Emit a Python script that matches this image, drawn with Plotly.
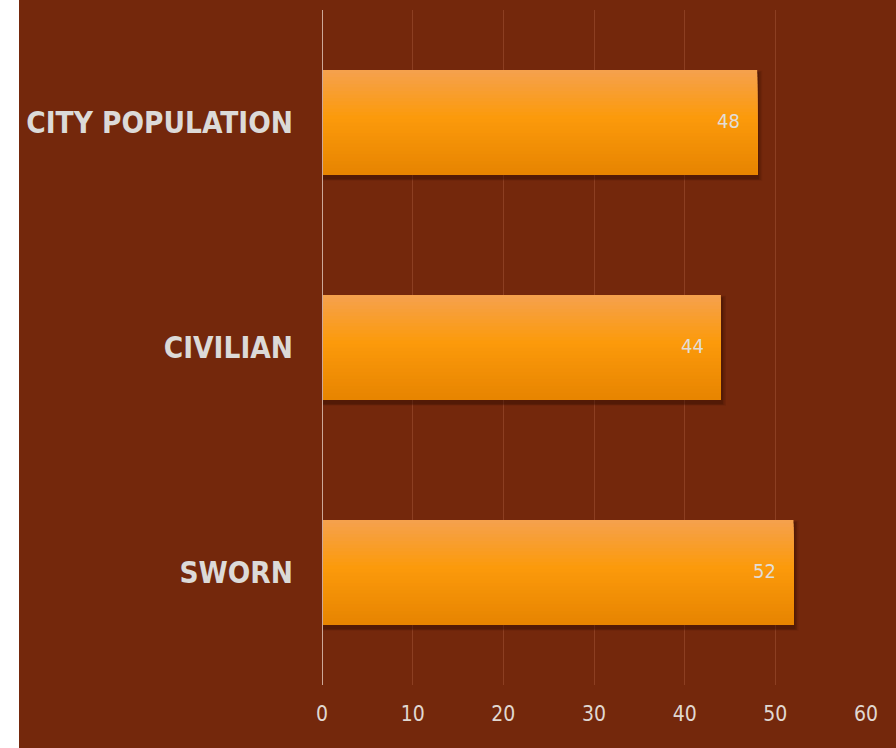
import plotly.graph_objects as go

categories = ["CITY POPULATION", "CIVILIAN", "SWORN"]
values = [48, 44, 52]
x_ticks = [0, 10, 20, 30, 40, 50, 60]

BG = "#74280C"
BAR_W = 0.467
N = 30

def lerp(c1, c2, t):
    a = [int(c1[i:i+2], 16) for i in (1, 3, 5)]
    b = [int(c2[i:i+2], 16) for i in (1, 3, 5)]
    return "rgb(%d,%d,%d)" % tuple(round(a[i] + (b[i] - a[i]) * t) for i in range(3))

stops = [(0.0, "#F5A14E"), (0.45, "#FC9A0B"), (1.0, "#E78400")]

def grad(t):
    for (p0, c0), (p1, c1) in zip(stops[:-1], stops[1:]):
        if t <= p1:
            return lerp(c0, c1, (t - p0) / (p1 - p0))
    return stops[-1][1]

fig = go.Figure()

# soft shadow layers
for i, a in enumerate([0.10, 0.16, 0.24]):
    grow = 0.55 - i * 0.17
    fig.add_trace(go.Bar(
        y=categories, x=[v + grow for v in values], orientation="h",
        width=BAR_W + 0.022 - i * 0.007, offset=-BAR_W / 2 + 0.003 + i * 0.004,
        marker=dict(color="rgba(40,10,0,%f)" % a, line=dict(width=0)),
        hoverinfo="skip", showlegend=False))

# vertical gradient built from stacked overlays (each reaching the bar's bottom edge)
step = BAR_W / N
for k in range(N):
    fig.add_trace(go.Bar(
        y=categories, x=values, orientation="h",
        width=BAR_W - k * step, offset=-BAR_W / 2 + k * step,
        marker=dict(color=grad((k + 0.5) / N), line=dict(width=0)),
        hoverinfo="skip", showlegend=False))

for c, v in zip(categories, values):
    fig.add_annotation(x=v, y=c, text=str(v), showarrow=False,
                       xanchor="right", xshift=-15, yshift=2,
                       font=dict(size=20, color="#E2DDD8", family="DejaVu Sans Condensed, DejaVu Sans"))

# white strip at the far left
fig.add_shape(type="rect", xref="paper", yref="paper", xsizemode="pixel", ysizemode="pixel",
              xanchor=0, yanchor=0, x0=-330, x1=-303, y0=-80, y1=700,
              fillcolor="white", line=dict(width=0), layer="below")

fig.update_layout(
    width=896, height=748,
    paper_bgcolor=BG, plot_bgcolor=BG,
    barmode="overlay",
    margin=dict(l=322, r=30, t=10, b=63),
    showlegend=False,
    xaxis=dict(range=[0, 60], tickvals=x_ticks, showgrid=True, gridcolor="#8C3F22", gridwidth=1,
               zeroline=False, showline=False, ticks="",
               tickfont=dict(size=21, color="#E0D8D2", family="DejaVu Sans Condensed, DejaVu Sans"),
               ticklabelstandoff=14),
    yaxis=dict(autorange=False, range=[2.5, -0.5], showgrid=False, zeroline=False, ticks="",
               showline=False,
               tickfont=dict(size=29.5, color="#DCDAD8", family="DejaVu Sans Condensed, DejaVu Sans",
                             weight="bold"),
               ticklabelstandoff=28),
)

# zero line
fig.add_shape(type="line", xref="x", yref="paper", x0=0, x1=0, y0=0, y1=1,
              line=dict(color="#CDA898", width=2))

fig.write_html("out.html")
